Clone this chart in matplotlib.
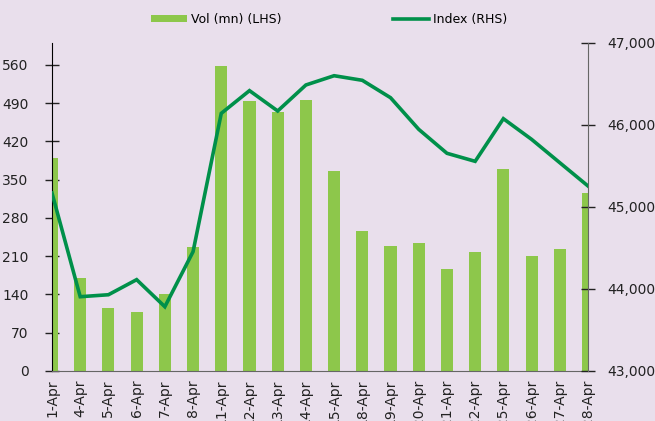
import matplotlib
matplotlib.use("Agg")
import matplotlib.pyplot as plt
import numpy as np

# trading days
dates = ['1-Apr', '4-Apr', '5-Apr', '6-Apr', '7-Apr', '8-Apr', '11-Apr', '12-Apr',
         '13-Apr', '14-Apr', '15-Apr', '18-Apr', '19-Apr', '20-Apr', '21-Apr',
         '22-Apr', '25-Apr', '26-Apr', '27-Apr', '28-Apr']

# volume in mn (LHS)
vol = [390, 170, 115, 108, 141, 227, 558, 493, 474, 496,
       366, 256, 229, 235, 186, 218, 369, 210, 224, 326]

# index level (RHS)
index_level = [45170, 43906, 43930, 44114, 43784, 44455, 46142, 46419, 46171, 46488,
               46601, 46545, 46333, 45947, 45655, 45557, 46077, 45825, 45540, 45256]

bg = '#E9DFEC'
bar_col = '#8DC74B'
line_col = '#00904A'

fig = plt.figure(figsize=(6.55, 4.21), dpi=100, facecolor=bg)
ax = fig.add_axes([52/655, 1-371/421, (588-52)/655, (371-43)/421])
ax.set_facecolor(bg)
x = np.arange(len(dates))

bars = ax.bar(x, vol, width=0.43, color=bar_col, label='Vol (mn) (LHS)', zorder=2)
ax.set_xlim(0, len(dates)-1)
ax.set_ylim(0, 600)
ax.set_yticks(np.arange(0, 561, 70))
ax.set_xticks(x)
ax.set_xticklabels(dates, rotation=90, fontsize=10, color='#222222')
ax.tick_params(axis='x', length=0, pad=6)
ax.tick_params(axis='y', direction='inout', length=10, width=1, labelsize=10,
               pad=12, colors='#222222')

for s in ['top', 'right']:
    ax.spines[s].set_visible(False)
ax.spines['left'].set_color('black')
ax.spines['bottom'].set_color('#666666')

ax2 = ax.twinx()
ln, = ax2.plot(x, index_level, color=line_col, lw=2.6, label='Index (RHS)', zorder=3,
               solid_joinstyle='miter')
ax2.set_ylim(43000, 47000)
ax2.set_yticks([43000, 44000, 45000, 46000, 47000])
ax2.set_yticklabels(['{:,}'.format(v) for v in [43000, 44000, 45000, 46000, 47000]])
ax2.tick_params(axis='y', direction='inout', length=10, width=1, labelsize=10,
                pad=9, colors='#222222')
for s in ['top', 'left', 'bottom']:
    ax2.spines[s].set_visible(False)
ax2.spines['right'].set_color('#666666')

fig.legend([bars, ln], ['Vol (mn) (LHS)', 'Index (RHS)'], ncol=2, frameon=False,
           loc='center left', bbox_to_anchor=(151/655, 1-19/421), borderpad=0,
           borderaxespad=0, handlelength=2.9, handleheight=0.5, handletextpad=0.3,
           columnspacing=8.9, fontsize=9)

fig.savefig('out.png', dpi=100, facecolor=bg)
